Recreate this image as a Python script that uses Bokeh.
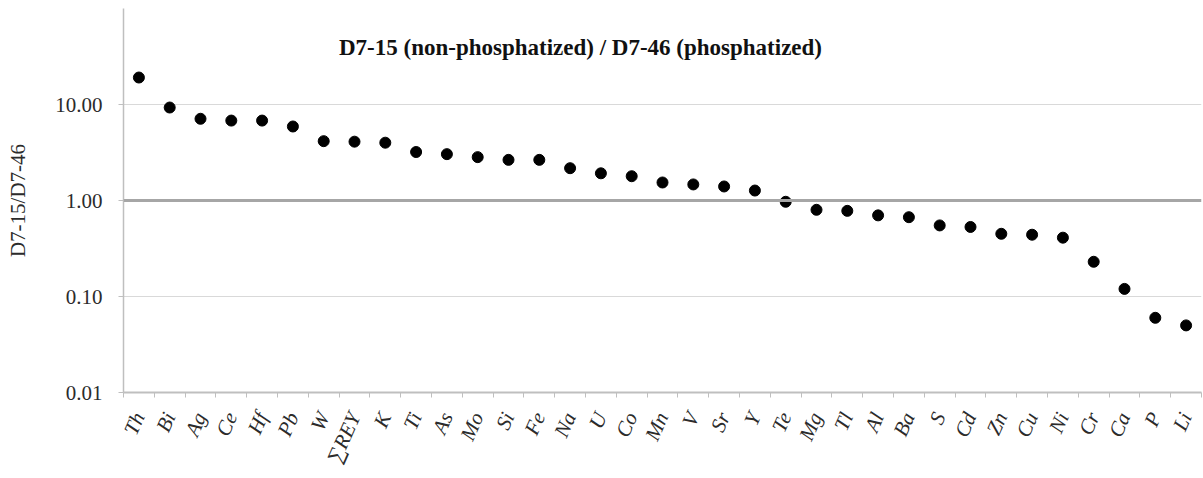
from bokeh.plotting import figure
from bokeh.models import (Range1d, LinearAxis, FixedTicker,
                          CustomJSTickFormatter, Span, Label, ColumnDataSource)
from bokeh.embed import file_html
from bokeh.resources import INLINE
import math

elements = ["Th", "Bi", "Ag", "Ce", "Hf", "Pb", "W", "\u2211REY", "K", "Ti", "As", "Mo", "Si", "Fe",
            "Na", "U", "Co", "Mn", "V", "Sr", "Y", "Te", "Mg", "Tl", "Al", "Ba", "S", "Cd", "Zn",
            "Cu", "Ni", "Cr", "Ca", "P", "Li"]
ratios = [19.1, 9.3, 7.1, 6.8, 6.8, 5.9, 4.15, 4.1, 4.0, 3.2, 3.04, 2.83, 2.65, 2.65,
          2.17, 1.92, 1.79, 1.54, 1.47, 1.40, 1.27, 0.97, 0.80, 0.78, 0.70, 0.67, 0.55, 0.53, 0.45,
          0.44, 0.41, 0.23, 0.12, 0.060, 0.050]
y_ticks = [0.01, 0.1, 1.0, 10.0]
title_text = "D7-15 (non-phosphatized) / D7-46 (phosphatized)"
y_label = "D7-15/D7-46"

serif = "Liberation Serif"
n = len(elements)
centers = [i + 0.5 for i in range(n)]

p = figure(width=1203, height=478, output_backend="svg", toolbar_location=None,
           x_range=Range1d(0, n), y_range=Range1d(0.01, 100), y_axis_type="log",
           x_axis_location=None, min_border_left=123, min_border_right=2,
           min_border_top=8, min_border_bottom=86)
p.outline_line_color = None

# y axis
ya = p.yaxis[0]
ya.ticker = FixedTicker(ticks=y_ticks, minor_ticks=[])
ya.formatter = CustomJSTickFormatter(code="return tick.toFixed(2);")
ya.axis_line_color = "#bfbfbf"
ya.axis_line_width = 1.5
ya.major_tick_line_color = "#bfbfbf"
ya.major_tick_out = 5
ya.major_tick_in = 0
ya.minor_tick_line_color = None
ya.major_label_text_font = serif
ya.major_label_text_font_size = "21px"
ya.major_label_text_color = "#2b2b2b"
ya.major_label_standoff = 16
ya.axis_label = y_label
ya.axis_label_text_font = serif
ya.axis_label_text_font_style = "normal"
ya.axis_label_text_font_size = "21px"
ya.axis_label_text_color = "#2b2b2b"
ya.axis_label_standoff = 22

p.ygrid.ticker = FixedTicker(ticks=[0.1, 10.0], minor_ticks=[])
p.ygrid.grid_line_color = "#d9d9d9"
p.ygrid.grid_line_width = 1
p.xgrid.grid_line_color = None

# x tick axis (ticks at category boundaries)
tick_axis = LinearAxis(ticker=FixedTicker(ticks=list(range(n + 1)), minor_ticks=[]),
                       formatter=CustomJSTickFormatter(code="return '';"),
                       major_label_standoff=0,
                       axis_line_color="#bfbfbf", axis_line_width=2,
                       major_tick_line_color="#bfbfbf", major_tick_out=5, major_tick_in=0,
                       minor_tick_line_color=None)
p.add_layout(tick_axis, "below")

label_axis = LinearAxis(ticker=FixedTicker(ticks=centers, minor_ticks=[]),
                        major_label_overrides={c: e for c, e in zip(centers, elements)},
                        axis_line_color=None, major_tick_line_color=None,
                        minor_tick_line_color=None,
                        major_label_orientation=math.radians(66),
                        major_label_text_font=serif,
                        major_label_text_font_style="italic",
                        major_label_text_font_size="21px",
                        major_label_text_color="#2b2b2b",
                        major_label_standoff=10)
p.add_layout(label_axis, "below")

p.add_layout(Span(location=1.0, dimension="width", line_color="#a6a6a6", line_width=3))

src = ColumnDataSource(dict(x=centers, y=ratios))
p.scatter("x", "y", source=src, size=11, fill_color="black", line_color="black")

p.add_layout(Label(x=457, y=345, x_units="screen", y_units="screen", text=title_text,
                   text_font=serif, text_font_style="bold", text_font_size="23px",
                   text_align="center", text_baseline="middle", text_color="#111111"))

open("out.html", "w").write(file_html(p, INLINE))
